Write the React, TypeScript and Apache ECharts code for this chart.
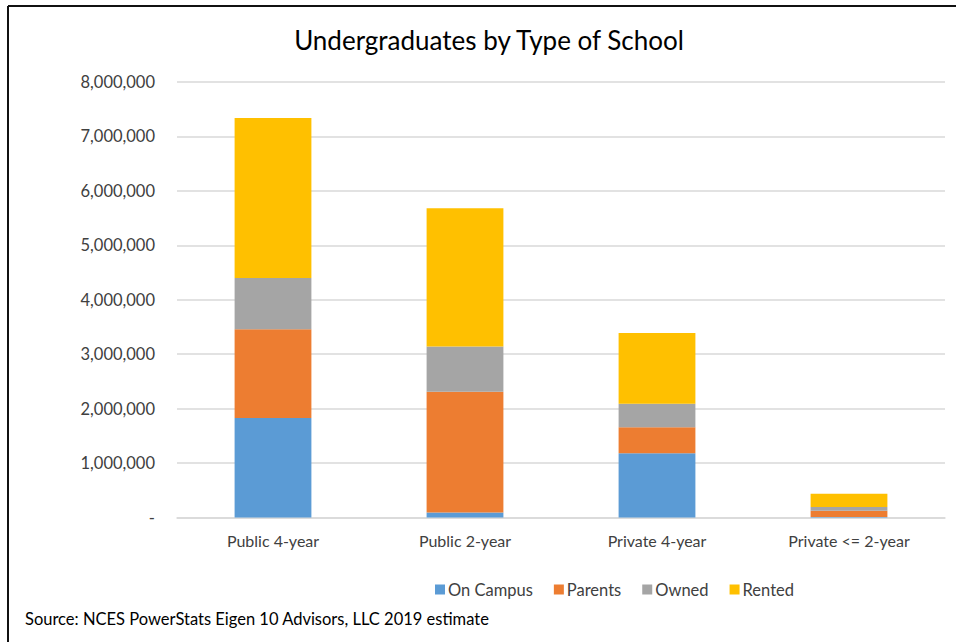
import React, { useEffect, useRef } from "react";
import * as echarts from "echarts";

const categories = ["Public 4-year", "Public 2-year", "Private 4-year", "Private <= 2-year"];
const onCampus = [1830000, 90000, 1180000, 10000];
const parents = [1630000, 2220000, 480000, 115000];
const owned = [940000, 830000, 430000, 70000];
const rented = [2940000, 2540000, 1300000, 240000];
const seriesNames = ["On Campus", "Parents", "Owned", "Rented"];
const colors = ["#5B9BD5", "#ED7D31", "#A5A5A5", "#FFC000"];

const FONT = "Lato";

export default function App() {
  const ref = useRef<HTMLDivElement>(null);
  useEffect(() => {
    if (!ref.current) return;
    const chart = echarts.init(ref.current, undefined, { renderer: "svg" });
    const data = [onCampus, parents, owned, rented];
    chart.setOption({
      animation: false,
      backgroundColor: "#ffffff",
      title: {
        text: "Undergraduates by Type of School",
        left: 484,
        top: 22,
        textAlign: "center",
        textStyle: { fontFamily: FONT, fontSize: 26, fontWeight: "normal", color: "#000000" },
      },
      grid: { left: 177, right: 11, top: 82, bottom: 124.5, containLabel: false },
      legend: {
        left: 430,
        top: 576,
        itemWidth: 10,
        itemHeight: 10,
        itemGap: 21,
        icon: "rect",
        textStyle: { fontFamily: FONT, fontSize: 16.5, color: "#404040", padding: [0, 0, 0, -2] },
        data: seriesNames,
      },
      xAxis: {
        type: "category",
        data: categories,
        axisLine: { lineStyle: { color: "#D9D9D9", width: 1.5 } },
        axisTick: { show: false },
        axisLabel: { fontFamily: FONT, fontSize: 16, color: "#404040", margin: 15 },
      },
      yAxis: {
        type: "value",
        min: 0,
        max: 8000000,
        interval: 1000000,
        axisLine: { show: false },
        axisTick: { show: false },
        splitLine: { lineStyle: { color: "#D9D9D9", width: 1.5 } },
        axisLabel: {
          fontFamily: FONT,
          fontSize: 16.5,
          color: "#404040",
          margin: 22,
          formatter: (v: number) => (v === 0 ? "-" : v.toLocaleString("en-US")),
        },
      },
      series: seriesNames.map((name, i) => ({
        name,
        type: "bar",
        stack: "total",
        barWidth: "40%",
        itemStyle: { color: colors[i] },
        data: data[i],
      })),
      graphic: [
        {
          type: "line",
          shape: { x1: 8, y1: 6, x2: 956, y2: 6 },
          style: { stroke: "#111111", lineWidth: 2 },
        },
        {
          type: "line",
          shape: { x1: 8, y1: 6, x2: 8, y2: 642 },
          style: { stroke: "#111111", lineWidth: 2 },
        },
        {
          type: "text",
          left: 25,
          top: 610,
          style: {
            text: "Source: NCES PowerStats Eigen 10 Advisors, LLC 2019 estimate",
            fontFamily: FONT,
            fontSize: 16.5,
            fill: "#000000",
          },
        },
      ],
    });
    return () => chart.dispose();
  }, []);
  return (
    <div
      ref={ref}
      style={{ position: "absolute", left: 0, top: 0, width: 956, height: 642 }}
    />
  );
}
